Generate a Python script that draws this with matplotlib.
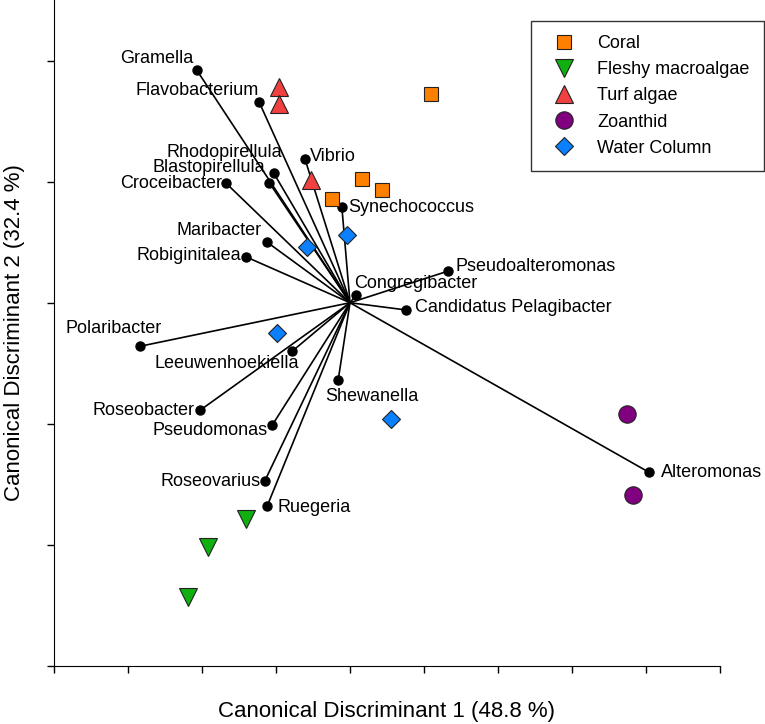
import matplotlib.pyplot as plt

plt.rcParams['font.family'] = ['Liberation Sans', 'DejaVu Sans']

# sample scores on the two canonical axes
coral_x = [1.09, 0.16, 0.43, -0.24]
coral_y = [1.72, 1.02, 0.93, 0.86]
fleshy_x = [-1.41, -1.92, -2.19]
fleshy_y = [-1.79, -2.02, -2.43]
turf_x = [-0.96, -0.96, -0.53]
turf_y = [1.78, 1.64, 1.01]
zoan_x = [3.74, 3.82]
zoan_y = [-0.92, -1.59]
water_x = [-0.58, -0.04, -0.99, 0.55]
water_y = [0.46, 0.56, -0.25, -0.96]

# genus vectors (structure coefficients)
genera = ['Gramella', 'Flavobacterium', 'Vibrio', 'Rhodopirellula', 'Blastopirellula',
          'Croceibacter', 'Synechococcus', 'Maribacter', 'Robiginitalea', 'Congregibacter',
          'Polaribacter', 'Leeuwenhoekiella', 'Roseobacter', 'Pseudomonas', 'Shewanella',
          'Roseovarius', 'Ruegeria', 'Pseudoalteromonas', 'Candidatus Pelagibacter',
          'Alteromonas']
vec_x = [-2.07, -1.23, -0.61, -1.03, -1.09, -1.68, -0.11, -1.12, -1.41, 0.08,
         -2.84, -0.78, -2.03, -1.05, -0.16, -1.15, -1.12, 1.32, 0.76, 4.04]
vec_y = [1.92, 1.66, 1.19, 1.07, 0.99, 0.99, 0.79, 0.50, 0.38, 0.06,
         -0.36, -0.40, -0.89, -1.01, -0.64, -1.47, -1.68, 0.26, -0.06, -1.40]

# label placement: offset in pixels from the dot, horizontal alignment
lab_pos = {
    'Gramella': (-3, 12, 'right'), 'Flavobacterium': (0, 11, 'right'),
    'Vibrio': (5, 2, 'left'), 'Rhodopirellula': (8, 21, 'right'),
    'Blastopirellula': (-4, 15, 'right'), 'Croceibacter': (-4, -1, 'right'),
    'Synechococcus': (6, 0, 'left'), 'Maribacter': (-5, 12, 'right'),
    'Robiginitalea': (-5, 1, 'right'), 'Congregibacter': (-2, 12, 'left'),
    'Polaribacter': (22, 18, 'right'), 'Leeuwenhoekiella': (7, -12, 'right'),
    'Roseobacter': (-5, 0, 'right'), 'Pseudomonas': (-5, -5, 'right'),
    'Shewanella': (-13, -16, 'left'), 'Roseovarius': (-4, -1, 'right'),
    'Ruegeria': (10, -1, 'left'), 'Pseudoalteromonas': (8, 5, 'left'),
    'Candidatus Pelagibacter': (9, 2, 'left'), 'Alteromonas': (12, 0, 'left'),
}

fig = plt.figure(figsize=(7.65, 7.24), dpi=100)
ax = fig.add_axes([54 / 765, 58 / 724, 666 / 765, 666 / 724])

for gx, gy in zip(vec_x, vec_y):
    ax.plot([0, gx], [0, gy], color='black', lw=1.2, zorder=2)
ax.plot(vec_x, vec_y, 'o', color='black', ms=6.5, zorder=3)

px2pt = 72 / 100
for name, gx, gy in zip(genera, vec_x, vec_y):
    dx, dy, ha = lab_pos[name]
    ax.annotate(name, (gx, gy), xytext=(dx * px2pt, dy * px2pt), textcoords='offset points',
                ha=ha, va='center', fontsize=13, zorder=4)

edge = dict(markeredgecolor='#222222', markeredgewidth=0.8, linestyle='None', zorder=5)
ax.plot(coral_x, coral_y, 's', color='#FF8000', ms=10.5, label='Coral', **edge)
ax.plot(fleshy_x, fleshy_y, 'v', color='#10B010', ms=13, label='Fleshy macroalgae', **edge)
ax.plot(turf_x, turf_y, '^', color='#F04040', ms=13, label='Turf algae', **edge)
ax.plot(zoan_x, zoan_y, 'o', color='#800080', ms=12.5, label='Zoanthid', **edge)
ax.plot(water_x, water_y, 'D', color='#0A80FF', ms=9.5, label='Water Column', **edge)

ax.set_xlim(-4, 5)
ax.set_ylim(-3, 2.5)
ax.set_xticks(range(-4, 6))
ax.set_yticks(range(-3, 3))
ax.set_xticklabels([])
ax.set_yticklabels([])
ax.tick_params(direction='out', length=5, width=1)
ax.spines['top'].set_visible(False)
ax.spines['right'].set_visible(False)

ax.set_xlabel('Canonical Discriminant 1 (48.8 %)', fontsize=16)
ax.set_ylabel('Canonical Discriminant 2 (32.4 %)', fontsize=16, va='center')
ax.xaxis.set_label_coords(0.5, -0.052)
ax.yaxis.set_label_coords(-0.060, 0.5)

leg = ax.legend(loc='upper right', bbox_to_anchor=(1.066, 0.9685), fontsize=13,
                frameon=True, fancybox=False, edgecolor='black', borderpad=0.8,
                labelspacing=0.5, handletextpad=0.85, borderaxespad=0)
leg.get_frame().set_linewidth(1)

fig.savefig('out.png', dpi=100)
